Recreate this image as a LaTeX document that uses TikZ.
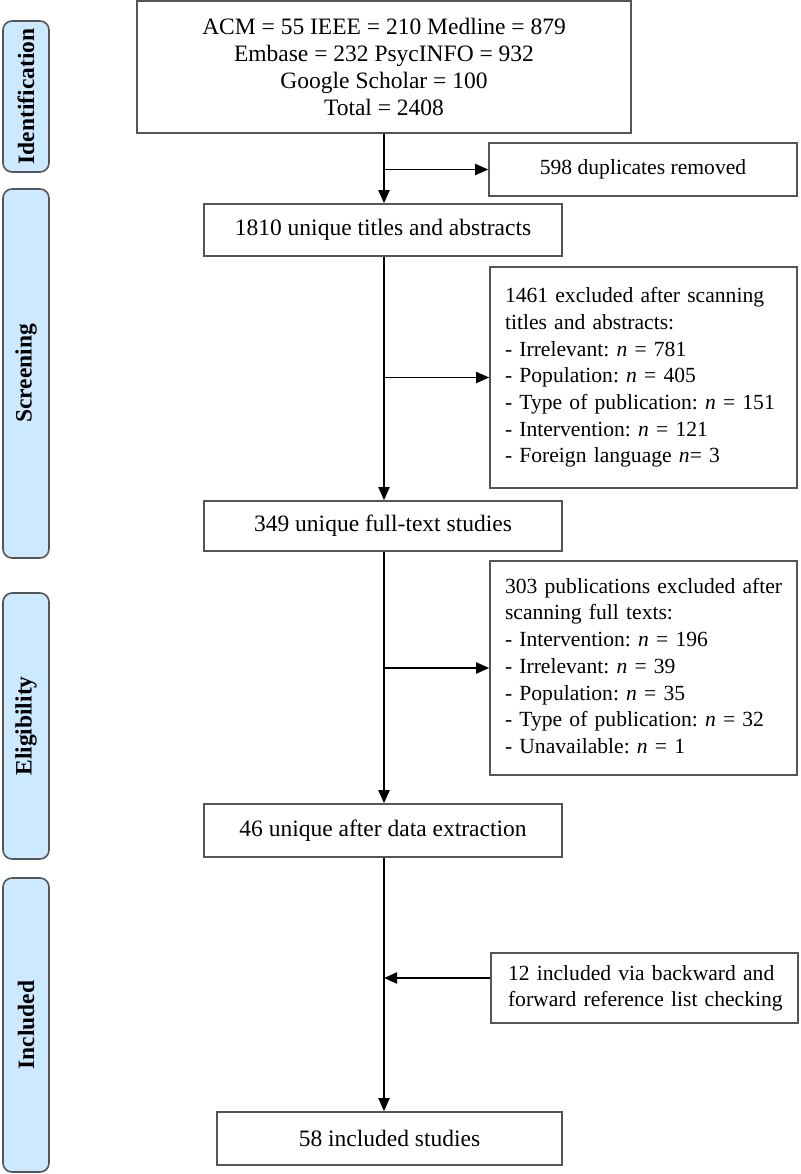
\documentclass[tikz,border=0pt]{standalone}
\usepackage{fontspec}
\setmainfont{Liberation Serif}
\usetikzlibrary{arrows.meta}
\frenchspacing
\definecolor{sidefill}{HTML}{CCE9FF}
\definecolor{boxline}{HTML}{555555}
\tikzset{
  box/.style={draw=boxline, line width=1.6pt, fill=white, inner sep=0pt, align=center,
    font=\fontsize{23.5}{26.7}\selectfont},
  sbox/.style={draw=boxline, line width=1.6pt, fill=white, inner sep=0pt, align=center,
    font=\fontsize{21.6}{26.7}\selectfont},
  lbox/.style={draw=boxline, line width=1.6pt, fill=white, inner xsep=15pt, inner ysep=0pt,
    align=left, font=\fontsize{21.6}{26.7}\selectfont},
  side/.style={draw=boxline, line width=1.6pt, fill=sidefill, rounded corners=9pt, rotate=90,
    inner sep=0pt, minimum height=46pt, font=\fontsize{23.5}{26.7}\selectfont\bfseries},
  flow/.style={draw=black, line width=1.9pt, -{Triangle[length=13pt,width=11pt]}}
}
\begin{document}
\begin{tikzpicture}[x=1pt,y=-1pt]
\useasboundingbox (0,0) rectangle (800,1174);
% side labels
\node[side, minimum width=151pt] (sid) at (26,96.5) {Identification};
\node[side, minimum width=369pt] (sscr) at (26,373.5) {Screening};
\node[side, minimum width=266pt] (selig) at (26,726) {Eligibility};
\node[side, minimum width=294pt] (sinc) at (26,1025) {Included};
% main boxes
\node[box, minimum width=494pt, minimum height=132pt] (top) at (384,67)
  {ACM = 55 IEEE = 210 Medline = 879\\Embase = 232 PsycINFO = 932\\Google Scholar = 100\\Total = 2408};
\node[sbox, minimum width=308pt, minimum height=53pt] (dup) at (643,169.5) {598 duplicates removed};
\node[box, minimum width=358pt, minimum height=52pt] (t1810) at (383,230) {1810 unique titles and abstracts};
\node[lbox, minimum width=307pt, minimum height=221pt, text width=277pt] (ex1) at (643.5,377.5)
  {\begin{tabular}{@{}l@{}}1461 excluded after scanning\\titles and abstracts:\\- Irrelevant: \textit{n} = 781\\- Population: \textit{n} = 405\\- Type of publication: \textit{n} = 151\\- Intervention: \textit{n} = 121\\- Foreign language \textit{n}= 3\end{tabular}};
\node[box, minimum width=358pt, minimum height=50pt] (t349) at (383,526) {349 unique full-text studies};
\node[lbox, minimum width=307pt, minimum height=214pt, text width=277pt] (ex2) at (643.5,668)
  {\begin{tabular}{@{}l@{}}303 publications excluded after\\scanning full texts:\\- Intervention: \textit{n} = 196\\- Irrelevant: \textit{n} = 39\\- Population: \textit{n} = 35\\- Type of publication: \textit{n} = 32\\- Unavailable: \textit{n} = 1\end{tabular}};
\node[box, minimum width=358pt, minimum height=53pt] (t46) at (383,830.5) {46 unique after data extraction};
\node[lbox, inner xsep=17pt, minimum width=307pt, minimum height=70pt, text width=273pt] (inc) at (644.5,988)
  {\begin{tabular}{@{}l@{}}12 included via backward and\\forward reference list checking\end{tabular}};
\node[box, minimum width=345pt, minimum height=53pt] (t58) at (389.5,1138.5) {58 included studies};
% connectors
\coordinate (b1) at (384,169.5);
\coordinate (b2) at (384,377.5);
\coordinate (b3) at (384,668);
\coordinate (b4) at (384,978);
\draw[flow] (top.south -| b1) -- (t1810.north -| b1);
\draw[flow] (b1) -- (dup.west);
\draw[flow] (t1810.south -| b2) -- (t349.north -| b2);
\draw[flow] (b2) -- (ex1.west);
\draw[flow] (t349.south -| b3) -- (t46.north -| b3);
\draw[flow] (b3) -- (ex2.west);
\draw[flow] (t46.south -| b4) -- (t58.north -| b4);
\draw[flow] (inc.west |- b4) -- (b4);
\end{tikzpicture}
\end{document}
